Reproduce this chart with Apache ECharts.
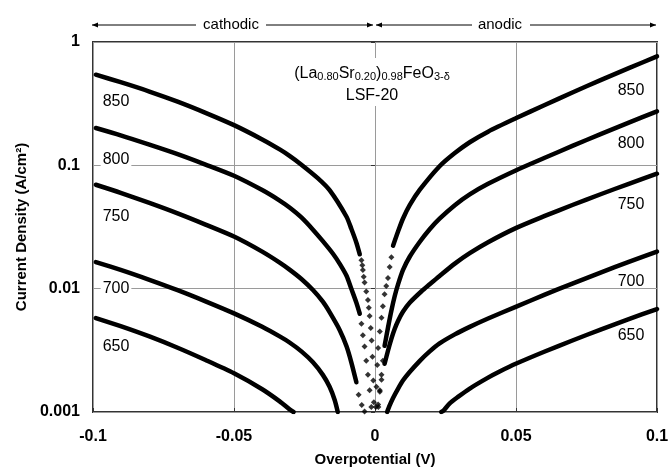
<!DOCTYPE html>
<html>
<head>
<meta charset="utf-8">
<title>LSF-20 current density vs overpotential</title>
<script src="https://cdn.jsdelivr.net/npm/echarts@6/dist/echarts.min.js"></script>
<style>
    html, body { margin: 0; padding: 0; background: #fff; }
    #chart { width: 669px; height: 468px; }
</style>
</head>
<body>
<div id="chart"></div>
<script>
// Overpotential (V) vs current density (A/cm2).
// Each temperature: cathodic line, central sparse dots, anodic line.
var temps = ['650', '700', '750', '800', '850'];
var yTickLabels = ['1', '0.1', '0.01', '0.001'];

var line650c = [[-0.099,0.00578],[-0.0902,0.00497],[-0.08,0.0041],[-0.07,0.00332],[-0.0601,0.00264],[-0.05,0.00206],[-0.04,0.00153],[-0.0338,0.00122],[-0.0303,0.00105],[-0.0289,0.001]];
var dots650 = [];
var line650a = [[0.0235,0.001],[0.0243,0.001026],[0.0265,0.001175],[0.0293,0.00132],[0.0336,0.00155],[0.0401,0.0019],[0.0442,0.00213],[0.0501,0.00247],[0.06,0.00308],[0.07,0.0038],[0.08,0.00466],[0.09,0.00566],[0.1,0.00684]];

var line700c = [[-0.099,0.0164],[-0.0902,0.0142],[-0.08,0.0118],[-0.07,0.00972],[-0.0601,0.00789],[-0.05,0.0063],[-0.04,0.00491],[-0.0338,0.0041],[-0.0303,0.00366],[-0.0261,0.0031],[-0.022,0.00253],[-0.0185,0.0020],[-0.0161,0.0016],[-0.0143,0.00125],[-0.0132,0.001]];
var dots700 = [];
var line700a = [[0.0043,0.001],[0.0052,0.00113],[0.0064,0.0013],[0.0082,0.00155],[0.0099,0.0018],[0.0123,0.00211],[0.0159,0.0026],[0.0194,0.0031],[0.0229,0.0036],[0.0283,0.00426],[0.0336,0.0049],[0.0401,0.00573],[0.0501,0.00716],[0.06,0.0089],[0.07,0.011],[0.08,0.0135],[0.09,0.0165],[0.1,0.020]];

var line750c = [[-0.099,0.0696],[-0.0902,0.0599],[-0.08,0.0496],[-0.07,0.0408],[-0.0601,0.0331],[-0.05,0.02646],[-0.04,0.01996],[-0.0338,0.01626],[-0.0303,0.01426],[-0.0261,0.01197],[-0.022,0.00974],[-0.0185,0.00784],[-0.0161,0.00645],[-0.0125,0.00461],[-0.0101,0.00341],[-0.0084,0.00253],[-0.0066,0.00174]];
var dots750 = [[-0.0058,0.00138],[-0.0047,0.00114],[-0.0037,0.00101],[0.0011,0.00115],[0.0017,0.00146],[0.0023,0.00183]];
var line750a = [[0.0034,0.00246],[0.0046,0.00314],[0.0058,0.00392],[0.0070,0.00473],[0.0082,0.0055],[0.0099,0.0065],[0.0123,0.00769],[0.0165,0.00953],[0.0194,0.01086],[0.0229,0.01268],[0.0283,0.01596],[0.0336,0.0194],[0.0401,0.0238],[0.0501,0.0311],[0.06,0.0387],[0.07,0.0477],[0.08,0.0583],[0.09,0.0708],[0.1,0.0855]];

var line800c = [[-0.099,0.2007],[-0.0902,0.1751],[-0.08,0.1472],[-0.07,0.1233],[-0.0601,0.1015],[-0.05,0.0823],[-0.04,0.063],[-0.0338,0.0518],[-0.0303,0.0455],[-0.0261,0.0378],[-0.022,0.0301],[-0.0185,0.0243],[-0.0149,0.0192],[-0.0125,0.0159],[-0.0101,0.01273],[-0.0084,0.00998],[-0.0066,0.00769],[-0.0054,0.00626]];
var dots800 = [[-0.0048,0.0052],[-0.0043,0.0042],[-0.0037,0.0034],[-0.0031,0.0026],[-0.0025,0.0020],[-0.0019,0.0015],[-0.0013,0.0011],[0.0012,0.0011],[0.0017,0.0015],[0.0023,0.0020],[0.0028,0.0026]];
var line800a = [[0.0034,0.00344],[0.0046,0.00482],[0.0058,0.00662],[0.0070,0.00871],[0.0082,0.01088],[0.0099,0.01413],[0.0123,0.01814],[0.0159,0.0240],[0.0194,0.0303],[0.0229,0.0369],[0.0283,0.0475],[0.0336,0.0581],[0.0401,0.0708],[0.0501,0.0913],[0.06,0.1146],[0.07,0.1437],[0.08,0.1791],[0.09,0.222],[0.1,0.2735]];

var line850c = [[-0.099,0.543],[-0.0902,0.472],[-0.08,0.3968],[-0.07,0.3285],[-0.0601,0.2666],[-0.05,0.2118],[-0.04,0.1622],[-0.0338,0.1346],[-0.0303,0.1194],[-0.0261,0.1013],[-0.0203,0.0788],[-0.0161,0.0629],[-0.0101,0.0383],[-0.0084,0.0306],[-0.0066,0.0236],[-0.0054,0.019]];
var dots850 = [[-0.0048,0.0170],[-0.0045,0.0155],[-0.0043,0.0142],[-0.0040,0.0125],[-0.0037,0.0112],[-0.0031,0.0095],[-0.0025,0.0081],[-0.0022,0.0070],[-0.0019,0.0060],[-0.0015,0.0048],[-0.0012,0.0038],[-0.0009,0.0028],[-0.0006,0.0018],[-0.0004,0.0012],[0.0003,0.0011],[0.0005,0.0016],[0.0008,0.0024],[0.0011,0.0033],[0.0017,0.0045],[0.0023,0.0058],[0.0028,0.0072],[0.0034,0.0090],[0.0040,0.0105],[0.0046,0.0122],[0.0052,0.0150],[0.0058,0.0180]];
var line850a = [[0.0064,0.0223],[0.0082,0.0292],[0.0099,0.0369],[0.0123,0.0475],[0.0159,0.0634],[0.0229,0.0983],[0.0283,0.1258],[0.0336,0.1539],[0.0401,0.1876],[0.0501,0.2417],[0.06,0.3072],[0.07,0.3895],[0.08,0.491],[0.09,0.6142],[0.1,0.764]];

var curves = [
    { c: line650c, d: dots650, a: line650a },
    { c: line700c, d: dots700, a: line700a },
    { c: line750c, d: dots750, a: line750a },
    { c: line800c, d: dots800, a: line800a },
    { c: line850c, d: dots850, a: line850a }
];

(function() {
    'use strict';

    var FONT = '"Liberation Sans", Arial, Helvetica, sans-serif';
    var chart = echarts.init(document.getElementById('chart'), null, { renderer: 'canvas' });

    var series = [];
    curves.forEach(function(cv, i) {
        [cv.c, cv.a].forEach(function(part) {
            series.push({
                name: temps[i],
                type: 'line',
                data: part,
                symbol: 'none',
                smooth: 0.25,
                lineStyle: { color: '#000', width: 4.5, cap: 'round', join: 'round' },
                z: 5
            });
        });
        series.push({
            name: temps[i],
            type: 'scatter',
            data: cv.d,
            symbol: 'diamond',
            symbolSize: 6,
            itemStyle: { color: '#000' },
            z: 5
        });
    });

    // curve labels; the left ones hide the gridlines behind them
    var leftLabelY = [347, 289, 217, 160, 102];
    var rightLabelY = [336, 282, 205, 144, 91];
    var graphics = [];
    temps.forEach(function(t, i) {
        graphics.push({
            type: 'text', z: 20,
            style: { text: t, x: 116, y: leftLabelY[i], align: 'center', verticalAlign: 'middle',
                     font: '16px ' + FONT, fill: '#000', backgroundColor: '#fff', padding: [1, 2] }
        });
        graphics.push({
            type: 'text', z: 20,
            style: { text: t, x: 631, y: rightLabelY[i], align: 'center', verticalAlign: 'middle',
                     font: '16px ' + FONT, fill: '#000' }
        });
    });

    // composition label
    graphics.push({
        type: 'text', z: 20,
        style: {
            text: '{n|(La}{s|0.80}{n|Sr}{s|0.20}{n|)}{s|0.98}{n|FeO}{s|3-δ}\n{n|LSF-20}',
            x: 372, y: 82, align: 'center', verticalAlign: 'middle',
            backgroundColor: '#fff', padding: [2, 4],
            rich: {
                n: { font: '16px ' + FONT, fill: '#000', lineHeight: 22, verticalAlign: 'bottom' },
                s: { font: '11px ' + FONT, fill: '#000', lineHeight: 4, verticalAlign: 'bottom' }
            }
        }
    });

    // cathodic / anodic arrows above the plot
    function arrow(x1, x2, y, dir) {
        var tip = dir < 0 ? x1 : x2;
        return [
            { type: 'line', shape: { x1: x1, y1: y, x2: x2, y2: y }, style: { stroke: '#000', lineWidth: 1 }, z: 20 },
            { type: 'polygon', shape: { points: [[tip, y], [tip - dir * 6, y - 2.5], [tip - dir * 6, y + 2.5]] },
              style: { fill: '#000' }, z: 20 }
        ];
    }
    var ay = 25;
    graphics = graphics
        .concat(arrow(92, 196, ay, -1))
        .concat(arrow(266, 373, ay, 1))
        .concat(arrow(376, 472, ay, -1))
        .concat(arrow(530, 656, ay, 1));
    graphics.push({ type: 'text', style: { text: 'cathodic', x: 231, y: ay, align: 'center', verticalAlign: 'middle', font: '15px ' + FONT, fill: '#000' } });
    graphics.push({ type: 'text', style: { text: 'anodic', x: 500, y: ay, align: 'center', verticalAlign: 'middle', font: '15px ' + FONT, fill: '#000' } });

    var option = {
        animation: false,
        backgroundColor: '#fff',
        grid: {
            left: 93, right: 12, top: 42, bottom: 56,
            outerBoundsMode: 'none',
            show: true, borderColor: '#333', borderWidth: 2, backgroundColor: 'transparent'
        },
        xAxis: {
            type: 'value',
            min: -0.1, max: 0.1, interval: 0.05,
            name: 'Overpotential (V)',
            nameLocation: 'middle', nameGap: 40,
            nameTextStyle: { fontFamily: FONT, fontSize: 15, fontWeight: 'bold', color: '#000' },
            axisLine: { show: false },
            axisTick: { show: true, inside: true, length: 4, lineStyle: { color: '#333' } },
            axisLabel: {
                margin: 17, fontFamily: FONT, fontSize: 16, fontWeight: 'bold', color: '#000',
                formatter: function(v) { return String(+v.toFixed(2)); }
            },
            splitLine: { show: true, lineStyle: { color: '#9a9a9a', width: 1 } }
        },
        yAxis: {
            type: 'log', logBase: 10,
            min: 0.001, max: 1,
            name: 'Current Density (A/cm²)',
            nameLocation: 'middle', nameGap: 64,
            nameTextStyle: { fontFamily: FONT, fontSize: 15, fontWeight: 'bold', color: '#000' },
            axisLine: { show: false },
            axisTick: { show: true, length: 4, lineStyle: { color: '#333' } },
            minorTick: { show: false },
            axisLabel: {
                margin: 13, fontFamily: FONT, fontSize: 16, fontWeight: 'bold', color: '#000',
                formatter: function(v) { return yTickLabels[Math.round(-Math.log10(v))]; }
            },
            splitLine: { show: true, lineStyle: { color: '#9a9a9a', width: 1 } }
        },
        graphic: graphics,
        series: series
    };

    chart.setOption(option);
})();
</script>
</body>
</html>
